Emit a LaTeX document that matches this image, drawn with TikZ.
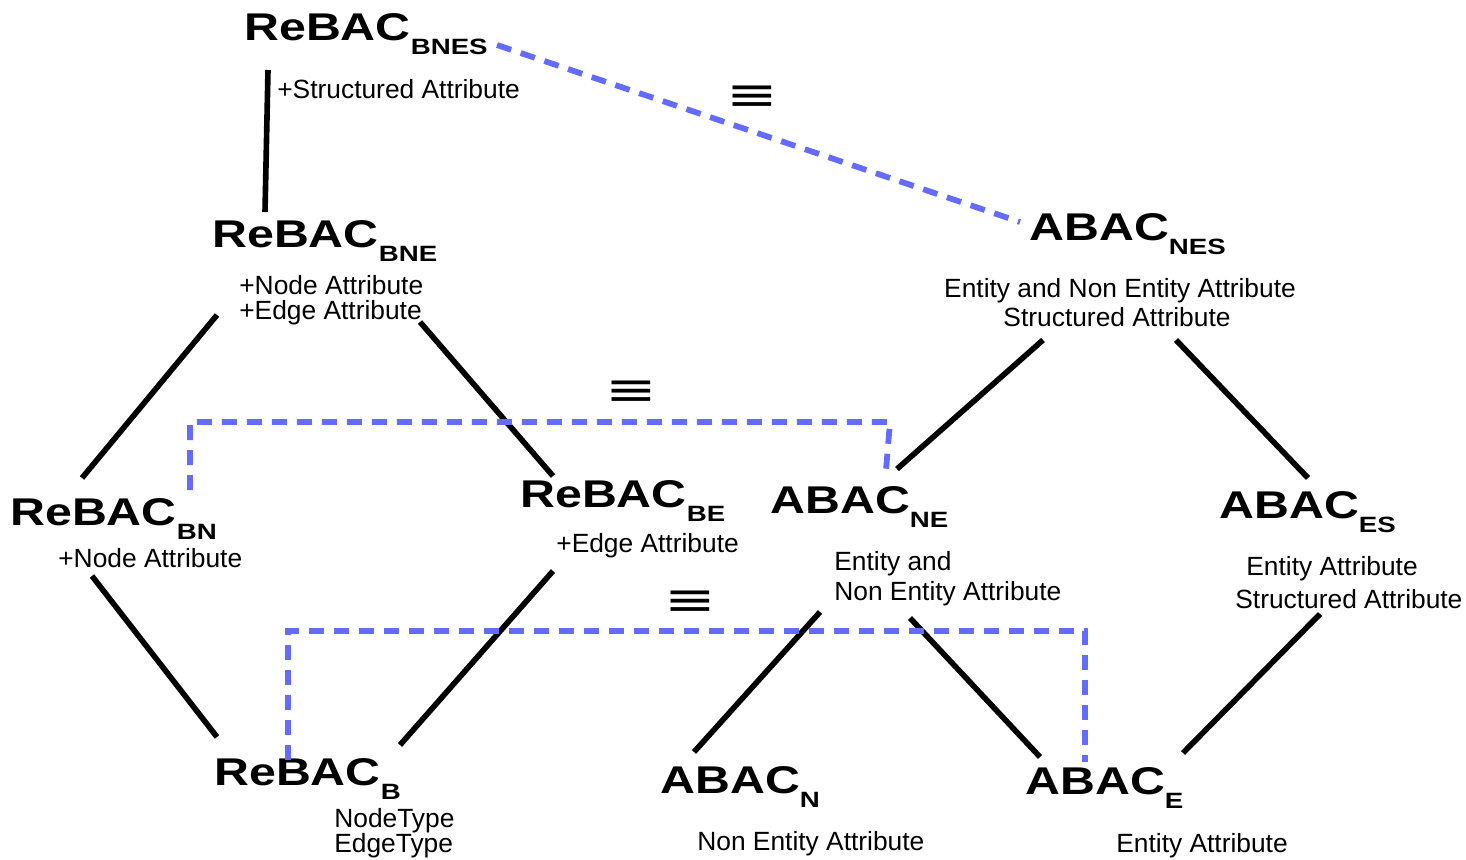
\documentclass[tikz,border=0pt]{standalone}
\usepackage{fontspec}
\setmainfont{Liberation Sans}
\newfontfamily\symfont{DejaVu Sans}
\definecolor{dashblue}{RGB}{100,108,255}
\newcommand{\mytitle}[2]{\scalebox{1.25}[1]{\fontsize{22}{22}\selectfont\bfseries #1\raisebox{-8pt}{\fontsize{12.6}{13}\selectfont #2}}}
\begin{document}
\begin{tikzpicture}[x=0.02cm,y=-0.02cm,
  ttlnode/.style={anchor=base west,inner sep=0pt},
  lbl/.style={anchor=base west,inner sep=0pt,font=\fontsize{15}{16}\selectfont},
  lblc/.style={anchor=base,inner sep=0pt,font=\fontsize{15}{16}\selectfont},
  link/.style={line width=3.2pt},
  eqv/.style={dashblue,line width=3.3pt,dash pattern=on 0.3cm off 0.2cm},
  eqsym/.style={inner sep=0pt,font=\symfont\fontsize{26}{26}\selectfont}]
\useasboundingbox (0,0) rectangle (1466,859);

% titles
\node[ttlnode] (bnes) at (244,40) {\mytitle{ReBAC}{BNES}};
\node[ttlnode] (bne)  at (212,247) {\mytitle{ReBAC}{BNE}};
\node[ttlnode] (nes)  at (1029,240) {\mytitle{ABAC}{NES}};
\node[ttlnode] (bn)   at (10,525) {\mytitle{ReBAC}{BN}};
\node[ttlnode] (be)   at (520,507) {\mytitle{ReBAC}{BE}};
\node[ttlnode] (ne)   at (770,513) {\mytitle{ABAC}{NE}};
\node[ttlnode] (es)   at (1219,518) {\mytitle{ABAC}{ES}};
\node[ttlnode] (b)    at (214,785) {\mytitle{ReBAC}{B}};
\node[ttlnode] (n)    at (660,793) {\mytitle{ABAC}{N}};
\node[ttlnode] (e)    at (1025,794) {\mytitle{ABAC}{E}};

% labels
\node[lbl] (bnes-l1) at (277,98) {+Structured Attribute};
\node[lbl] (bne-l1) at (239,294) {+Node Attribute};
\node[lbl] (bne-l2) at (239,319) {+Edge Attribute};
\node[lblc] (nes-l1) at (1120,297) {Entity and Non Entity Attribute};
\node[lblc] (nes-l2) at (1117,326) {Structured Attribute};
\node[lbl] (bn-l1) at (58,567) {+Node Attribute};
\node[lbl] (be-l1) at (556,552) {+Edge Attribute};
\node[lbl] (ne-l1) at (834,570) {Entity and};
\node[lbl] (ne-l2) at (834,600) {Non Entity Attribute};
\node[lbl] (es-l1) at (1246,575) {Entity Attribute};
\node[lbl] (es-l2) at (1235,608) {Structured Attribute};
\node[lbl] (b-l1) at (334,827) {NodeType};
\node[lbl] (b-l2) at (334,852) {EdgeType};
\node[lbl] (n-l1) at (697,850) {Non Entity Attribute};
\node[lbl] (e-l1) at (1116,852) {Entity Attribute};

% equivalence symbols
\node[eqsym] (eq1) at (752,98) {\scalebox{1.35}[1]{≡}};
\node[eqsym] (eq2) at (631,393) {\scalebox{1.35}[1]{≡}};
\node[eqsym] (eq3) at (690,603) {\scalebox{1.35}[1]{≡}};

% connector end points
\coordinate (bnes-s) at (268,70);
\coordinate (bne-n) at (265,212);
\coordinate (bne-sw) at (217,315);
\coordinate (bne-se) at (420,322);
\coordinate (bn-n) at (82,478);
\coordinate (be-n) at (553,476);
\coordinate (nes-sw) at (1043,340);
\coordinate (nes-se) at (1176,340);
\coordinate (ne-n) at (897,469);
\coordinate (es-n) at (1308,478);
\coordinate (bn-s) at (92,576);
\coordinate (b-nw) at (217,737);
\coordinate (be-s) at (553,571);
\coordinate (b-ne) at (400,745);
\coordinate (ne-sw) at (820,612);
\coordinate (ne-se) at (910,618);
\coordinate (n-n) at (694,752);
\coordinate (e-nw) at (1040,757);
\coordinate (es-s) at (1320,614);
\coordinate (e-ne) at (1183,753);
% dashed end points
\coordinate (bnes-e) at (497,45);
\coordinate (nes-w) at (1020,222);
\coordinate (bn-ne) at (190,490);
\coordinate (ne-top) at (886,470);
\coordinate (b-top) at (288,760);
\coordinate (e-top) at (1085,762);

% solid connectors
\draw[link] (bnes-s) -- (bne-n);
\draw[link] (bne-sw) -- (bn-n);
\draw[link] (bne-se) -- (be-n);
\draw[link] (nes-sw) -- (ne-n);
\draw[link] (nes-se) -- (es-n);
\draw[link] (bn-s) -- (b-nw);
\draw[link] (be-s) -- (b-ne);
\draw[link] (ne-sw) -- (n-n);
\draw[link] (ne-se) -- (e-nw);
\draw[link] (es-s) -- (e-ne);

% dashed equivalences
\draw[eqv] (bnes-e) -- (nes-w);
\draw[eqv] (bn-ne) -- (bn-ne |- 0,422) -- (890,422) -- (ne-top);
\draw[eqv] (b-top) -- (b-top |- 0,631) -- (e-top |- 0,631) -- (e-top);
\end{tikzpicture}
\end{document}
